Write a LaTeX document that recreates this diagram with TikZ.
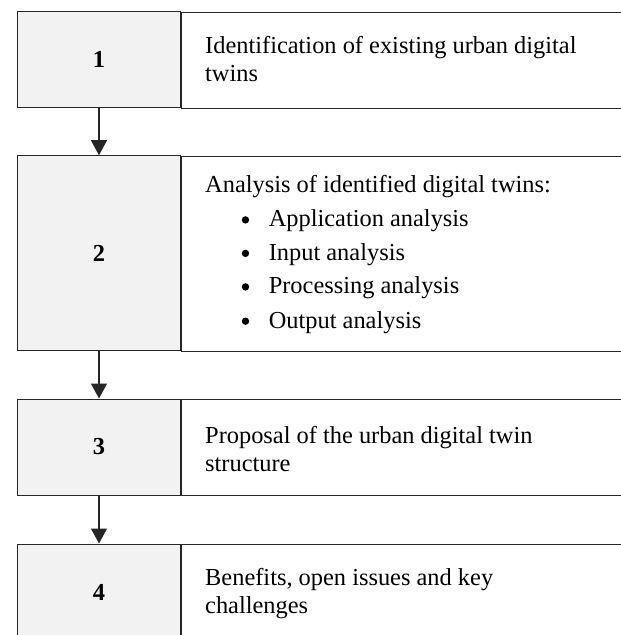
\documentclass[tikz,border=0pt]{standalone}
\usepackage{fontspec}
\setmainfont{Liberation Serif}
\usetikzlibrary{arrows.meta}
\begin{document}
\begin{tikzpicture}[x=1pt,y=-1pt,
  numbox/.style={draw=black!85, line width=1pt, fill=black!5, minimum width=163.4pt, inner sep=0pt, font=\fontsize{24.4}{27.7}\selectfont\bfseries},
  rowbox/.style={draw=black!85, line width=1pt, fill=white, minimum width=470pt, inner sep=0pt, anchor=north west},
  txt/.style={anchor=base west, inner sep=0pt, font=\fontsize{24.4}{27.7}\selectfont},
  bul/.style={circle, fill=black, inner sep=0pt, minimum size=7.4pt},
  arr/.style={draw=black!85, line width=1.3pt, -{Triangle[width=16pt,length=15pt]}}]
\useasboundingbox (0,0) rectangle (621,635);
\clip (0,0) rectangle (621,635);
% right boxes
\node[rowbox, minimum height=96pt] (r1) at (180.7,11.7) {};
\node[rowbox, minimum height=195pt] (r2) at (180.7,155.7) {};
\node[rowbox, minimum height=96pt] (r3) at (180.7,399) {};
\node[rowbox, minimum height=96pt] (r4) at (180.7,544) {};
% number boxes
\node[numbox, minimum height=96pt] (n1) at (99,59.7) {1};
\node[numbox, minimum height=195pt] (n2) at (99,253.2) {2};
\node[numbox, minimum height=96pt] (n3) at (99,447) {3};
\node[numbox, minimum height=96pt] (n4) at (99,592) {4};
% arrows
\draw[arr] (n1.south) -- (n2.north);
\draw[arr] (n2.south) -- (n3.north);
\draw[arr] (n3.south) -- (n4.north);
% texts
\node[txt] (t1a) at (205,53.3) {Identification of existing urban digital};
\node[txt] (t1b) at (205,81) {twins};
\node[txt] (t2a) at (205,192.3) {Analysis of identified digital twins:};
\node[bul] (b1) at (245.5,219.9) {};
\node[bul] (b2) at (245.5,253.4) {};
\node[bul] (b3) at (245.5,286.9) {};
\node[bul] (b4) at (245.5,321.2) {};
\node[txt] (t2b) at (268.6,226.7) {Application analysis};
\node[txt] (t2c) at (268.6,260.2) {Input analysis};
\node[txt] (t2d) at (268.6,293.7) {Processing analysis};
\node[txt] (t2e) at (268.6,328) {Output analysis};
\node[txt] (t3a) at (205,443.3) {Proposal of the urban digital twin};
\node[txt] (t3b) at (205,471) {structure};
\node[txt] (t4a) at (205,585) {Benefits, open issues and key};
\node[txt] (t4b) at (205,613.3) {challenges};
\end{tikzpicture}
\end{document}
